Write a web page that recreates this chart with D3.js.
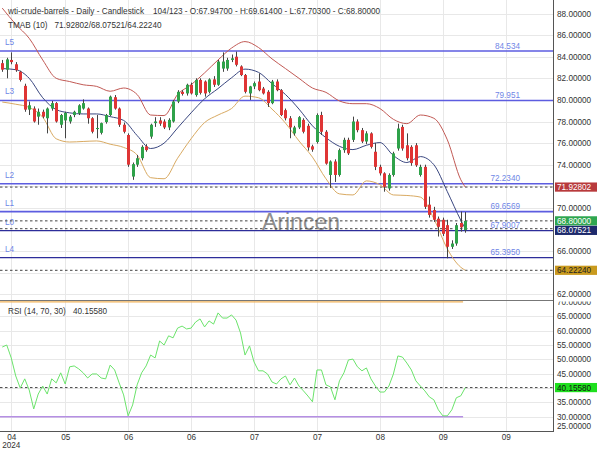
<!DOCTYPE html>
<html><head><meta charset="utf-8">
<script src="https://cdn.jsdelivr.net/npm/d3@7"></script>
<style>body{margin:0;background:#fff;}svg{display:block;}</style>
</head><body><svg id="c" width="600" height="450"></svg>
<script>
// ---------- data ----------
const opens = [83.4,82.8,83.7,83.3,82.6,81.3,79.1,79.2,78.45,78.9, 78.3,79.2,79.7,77.7,78.1,78.0,78.6,78.75,79.2,79.2, 78.3,77.3,76.95,77.95,78.6,80.25,79.2,77.7,76.75,72.9, 74.0,74.6,75.7,76.6,77.85,78.1,78.0,77.45,78.0,79.85, 80.75,80.6,81.4,80.45,81.85,81.7,80.75,81.9,81.4,82.9, 82.9,83.7,84.0,83.1,82.3,80.6,81.25,81.7,81.05,80.75, 79.7,81.7,80.9,79.05,78.3,76.9,77.45,78.15,77.6,75.7, 76.1,78.6,77.05,73.05,74.3,73.05,75.35,76.3,76.3,78.0, 77.2,76.15,76.9,75.2,73.8,73.2,71.8,73.05,75.5,77.5, 75.8,75.65,75.8,73.05,73.8,70.3,69.8,69.0,68.9,68.4, 66.4,66.7,68.6,67.947];
const highs = [83.7,83.9,84.4,83.5,82.7,81.5,79.85,79.4,79.2,79.1, 79.3,79.9,79.8,78.7,78.9,78.6,79.0,79.6,80.05,79.3, 78.4,78.6,77.9,78.7,80.4,80.45,79.3,77.9,76.9,74.2, 74.9,75.8,75.9,77.8,78.4,78.4,78.2,78.3,80.0,80.9, 80.9,81.5,81.6,82.0,82.0,81.8,82.0,82.2,83.7,84.4, 83.9,84.2,84.47,83.2,82.4,81.3,81.7,82.45,81.2,80.9, 81.85,81.9,81.0,79.2,78.5,77.6,78.5,78.3,77.8,75.85, 78.75,78.9,77.2,74.4,74.5,75.5,76.5,76.5,78.45,78.2, 77.4,77.1,77.0,76.0,74.0,73.3,73.2,75.2,77.8,77.7, 76.9,75.8,76.0,74.0,74.0,71.05,70.1,69.2,69.1,68.9, 67.0,68.6,69.66,69.614];
const lows = [82.6,82.0,83.3,82.6,81.7,78.9,78.6,77.9,77.7,78.3, 76.9,79.0,77.9,77.4,76.45,77.8,78.4,78.6,79.1,77.8, 76.9,76.45,76.8,77.8,78.5,79.1,77.5,76.9,73.8,72.6, 73.8,74.4,75.2,76.4,77.5,77.6,77.3,77.2,77.9,79.7, 80.4,80.4,80.5,80.3,80.5,80.3,80.6,81.2,81.3,82.6, 82.7,83.5,83.1,82.2,80.6,80.0,81.0,80.8,80.5,79.35, 79.6,80.8,78.5,78.1,76.45,76.7,77.3,76.9,75.3,75.2, 75.95,76.75,74.0,71.85,72.4,72.9,75.1,74.9,76.1,77.0, 76.0,75.9,75.5,73.5,73.0,71.5,71.6,72.9,75.3,75.3, 74.4,73.9,73.8,72.9,69.9,69.1,68.7,67.35,67.4,65.33, 66.2,66.5,67.8,67.703];
const closes = [82.8,83.75,83.5,82.75,81.85,79.1,79.5,78.0,78.9,78.45, 79.2,79.7,78.0,78.6,78.8,78.45,78.9,79.5,79.7,78.3, 77.05,77.4,77.85,78.6,80.3,79.2,77.7,77.05,74.0,74.05, 74.6,75.65,75.35,77.7,78.0,77.8,77.45,78.15,79.85,80.75, 80.55,81.4,80.6,81.85,80.65,80.6,81.9,81.4,83.55,83.55, 83.7,83.85,83.25,82.3,80.75,81.25,81.55,80.9,80.6,79.7, 81.7,80.9,78.6,78.3,77.45,77.45,78.4,77.05,75.6,75.4, 78.6,77.05,74.1,74.3,73.05,75.35,76.3,75.05,78.0,77.2, 76.15,76.9,75.65,73.8,73.2,71.95,73.05,75.05,77.35,75.5, 74.6,74.15,73.95,73.8,70.1,69.35,68.9,68.25,67.6,66.4, 66.7,68.4,68.2,68.8];

// TMAB(10) bands at these candle indices
const bandIndex  = [0,3,6,9,12,15,18,21,24,27,30,33,36,39,42,45,48,51,54,57,60,63,66,69,72,75,78,81,84,87,90,93,96,99,102,103];
const bandUpper  = [88.5,87.0,85.7,83.7,82.0,81.7,81.4,81.25,80.8,81.1,80.5,78.6,78.55,80.5,81.4,82.5,83.7,84.8,85.4,84.85,83.8,82.9,82.0,81.1,80.7,79.9,79.65,79.65,79.2,78.2,77.8,78.6,78.3,76.3,72.6,71.92802];
const bandMiddle = [82.9,82.8,82.0,80.2,79.1,78.8,78.7,78.7,78.45,78.1,76.7,75.5,76.0,77.4,78.8,80.1,81.05,82.05,82.85,82.55,81.5,80.5,79.15,77.6,76.5,75.7,75.4,75.8,76.05,74.85,74.2,74.75,74.0,71.5,68.85,68.07521];
const bandLower  = [79.8,79.6,79.3,78.4,76.4,76.1,76.15,76.2,75.9,75.6,74.9,72.8,72.7,74.6,76.4,77.9,78.6,79.2,80.35,80.2,79.15,77.85,76.2,74.7,72.7,71.3,71.2,72.5,72.15,71.2,71.15,71.0,69.0,66.2,64.5,64.22240];
const tmabLast = [71.92802, 68.07521, 64.22240];

// RSI(14) per candle
const rsiValues = [54.3,55.0,50.5,44.2,40.0,43.2,39.3,32.7,37.9,40.7, 37.9,43.2,41.8,45.3,41.4,47.4,47.7,46.7,45.3,43.5, 44.9,44.9,43.5,43.2,48.0,46.3,41.8,37.6,30.3,34.1, 41.1,45.3,47.7,51.5,50.5,56.4,55.0,58.2,57.5,60.9, 61.6,60.6,60.9,63.0,64.1,61.3,63.4,62.3,66.2,64.4, 64.4,65.5,63.7,59.2,51.5,54.7,49.1,46.0,46.0,44.9, 42.1,41.4,43.2,44.2,41.1,43.5,40.7,39.0,37.2,35.2, 46.3,46.3,41.1,40.4,35.9,42.5,45.3,49.8,50.1,47.4, 46.0,47.0,43.2,40.7,38.6,38.6,40.7,44.9,51.2,50.8, 48.7,46.3,42.5,40.7,39.0,36.9,35.9,32.4,30.3,30.3, 32.4,36.6,37.3,40.1558];
const rsiLast = 40.15580;

// levels
const levelNames  = ["L5","L3","L2","L1","L0","L4"];
const levelValues = [84.534,79.951,72.2340,69.6569,67.9007,65.3950];
const levelLabels = ["84.534","79.951","72.2340","69.6569","67.9007","65.3950"];
const levelDark   = [false,false,false,false,true,true];

// axes
const priceTicks = [62,64,66,68,70,72,74,76,78,80,82,84,86,88];
const rsiTicks = [25,30,35,40,45,50,55,60,65,70];
const dateTickIndex  = [2,14,28,42,56,70,84,98,112];
const dateTickLabels = ["04","05","06","06","07","07","08","09","09"];
const yearLabel = "2024";
const totalSlots = 123;
const titleText = "wti-crude-barrels - Daily - Candlestick";

// ---------- drawing ----------
const FONT = "'Liberation Sans', Arial, sans-serif";
const FS = 8.2;
const plotRight = 553, mainBottom = 300.5, rsiTop = 301, rsiBottom = 431.5;
const svg = d3.select("#c");
const n = closes.length;

const x = d3.scaleLinear().domain([-0.5, totalSlots - 0.5]).range([0, plotRight]);
const yP = d3.scaleLinear().domain([62, 88]).range([294.3, 13.5]);
const yR = d3.scaleLinear().domain([30, 70]).range([416.7, 302]);

const defs = svg.append("defs");
defs.append("clipPath").attr("id","clipMain").append("rect").attr("x",0).attr("y",0).attr("width",plotRight).attr("height",mainBottom);
defs.append("clipPath").attr("id","clipRsi").append("rect").attr("x",0).attr("y",rsiTop).attr("width",plotRight).attr("height",rsiBottom-rsiTop);
defs.append("clipPath").attr("id","clipRsiAx").append("rect").attr("x",plotRight).attr("y",rsiTop+0.5).attr("width",60).attr("height",150);

// badges (positions needed to hide covered axis labels)
const badges = [
  {v:tmabLast[0], y:yP(tmabLast[0]), bg:"#b83a3c", fg:"#fff"},
  {v:closes[n-1], y:yP(closes[n-1]), bg:"#2fa650", fg:"#fff"},
  {v:tmabLast[1], y:yP(tmabLast[1]), bg:"#1e2a6c", fg:"#fff"},
  {v:tmabLast[2], y:yP(tmabLast[2]), bg:"#c99a1e", fg:"#222"},
  {v:rsiLast, y:yR(rsiLast), bg:"#1ee01e", fg:"#111"}
];
for (let k=1;k<4;k++){ if (badges[k].y - badges[k-1].y < 9.5) badges[k].y = badges[k-1].y + 9.5; }
const covered = yy => badges.some(b => Math.abs(b.y - yy) < 9);

// grid
const grid = svg.append("g").attr("stroke","#e8e8e8").attr("stroke-width",1);
grid.selectAll(".hp").data(priceTicks).join("line")
  .attr("x1",0).attr("x2",plotRight).attr("y1",d=>Math.round(yP(d))+0.5).attr("y2",d=>Math.round(yP(d))+0.5);
grid.selectAll(".hr").data(rsiTicks.filter(d=>d<70)).join("line")
  .attr("x1",0).attr("x2",plotRight).attr("y1",d=>Math.round(yR(d))+0.5).attr("y2",d=>Math.round(yR(d))+0.5);
grid.selectAll(".v").data(dateTickIndex).join("line")
  .attr("x1",d=>Math.round(x(d))+0.5).attr("x2",d=>Math.round(x(d))+0.5).attr("y1",0).attr("y2",rsiBottom);

// watermark
svg.append("text").attr("x",262).attr("y",230).attr("font-family",FONT).attr("font-size",23)
  .attr("fill","#8f8f8f").text("Arincen");

const main = svg.append("g").attr("clip-path","url(#clipMain)");

// level lines
levelValues.forEach((v,k)=>{
  main.append("line").attr("x1",0).attr("x2",plotRight).attr("y1",yP(v)).attr("y2",yP(v))
    .attr("stroke", levelDark[k] ? "#2d2d9a" : "#5d5de0").attr("stroke-width", levelDark[k] ? 1.2 : 1.6);
  main.append("text").attr("x",5).attr("y",yP(v)-6).attr("font-family",FONT).attr("font-size",FS)
    .attr("fill","#6f86e6").text(levelNames[k]);
  main.append("text").attr("x",520).attr("y",yP(v)-2.3).attr("text-anchor","end").attr("font-family",FONT).attr("font-size",FS)
    .attr("fill","#6f86e6").text(levelLabels[k]);
});

// dotted last-value lines
const dotted = [tmabLast[0], closes[n-1], tmabLast[1], tmabLast[2]];
main.selectAll(".dl").data(dotted).join("line")
  .attr("x1",0).attr("x2",plotRight).attr("y1",d=>yP(d)).attr("y2",d=>yP(d))
  .attr("stroke","#444").attr("stroke-width",1).attr("stroke-dasharray","2.5,2.5");

// bands
const bandLine = arr => d3.line().x((d,k)=>x(bandIndex[k])).y(d=>yP(d)).curve(d3.curveMonotoneX)(arr);
main.append("path").attr("d",bandLine(bandUpper)).attr("fill","none").attr("stroke","#c25a55").attr("stroke-width",1);
main.append("path").attr("d",bandLine(bandLower)).attr("fill","none").attr("stroke","#d9aa62").attr("stroke-width",1);
main.append("path").attr("d",bandLine(bandMiddle)).attr("fill","none").attr("stroke","#3a4780").attr("stroke-width",1);

// candles
const idx = d3.range(n);
const cg = main.append("g");
cg.selectAll(".wk").data(idx).join("line")
  .attr("x1",i=>Math.round(x(i))+0.5).attr("x2",i=>Math.round(x(i))+0.5)
  .attr("y1",i=>yP(highs[i])).attr("y2",i=>yP(lows[i]))
  .attr("stroke","#444").attr("stroke-width",1);
cg.selectAll(".bd").data(idx).join("rect")
  .attr("x",i=>Math.round(x(i))-1).attr("width",3)
  .attr("y",i=>yP(Math.max(opens[i],closes[i])))
  .attr("height",i=>Math.max(1, Math.abs(yP(opens[i])-yP(closes[i]))))
  .attr("fill",i=>closes[i]>=opens[i] ? "#2fa24a" : "#df3535");

// RSI panel
const rp = svg.append("g").attr("clip-path","url(#clipRsi)");
rp.append("line").attr("x1",0).attr("x2",x(n-1.5)).attr("y1",yR(30)).attr("y2",yR(30)).attr("stroke","#b58fe3").attr("stroke-width",1.5);
rp.append("line").attr("x1",0).attr("x2",plotRight).attr("y1",yR(rsiLast)).attr("y2",yR(rsiLast))
  .attr("stroke","#444").attr("stroke-width",1).attr("stroke-dasharray","2.5,2.5");
rp.append("path").attr("d", d3.line().x((d,i)=>x(i)).y(d=>yR(d))(rsiValues))
  .attr("fill","none").attr("stroke","#6be36b").attr("stroke-width",1);

// separator and upper RSI level
svg.append("line").attr("x1",0).attr("x2",plotRight).attr("y1",300.5).attr("y2",300.5).attr("stroke","#777").attr("stroke-width",1);
svg.append("line").attr("x1",0).attr("x2",x(n-1.5)).attr("y1",301.8).attr("y2",301.8).attr("stroke","#efb25a").attr("stroke-width",1.3);

// axes
const styleAxis = g => { g.select(".domain").remove(); g.attr("font-family",FONT).attr("font-size",FS); g.selectAll("text").attr("fill","#333"); };
const pAx = svg.append("g").attr("transform",`translate(${plotRight},0)`)
  .call(d3.axisRight(yP).tickValues(priceTicks).tickFormat(d=>d.toFixed(5)).tickSize(0).tickPadding(4)).call(styleAxis);
pAx.selectAll(".tick").filter(d=>covered(yP(d))).remove();
const rAx = svg.append("g").attr("clip-path","url(#clipRsiAx)").append("g").attr("transform",`translate(${plotRight},0)`)
  .call(d3.axisRight(yR).tickValues(rsiTicks).tickFormat(d=>d.toFixed(5)).tickSize(0).tickPadding(4)).call(styleAxis);
rAx.selectAll(".tick").filter(d=>Math.abs(yR(d)-yR(rsiLast))<9).remove();
rAx.selectAll(".tick").filter(d=>d===25).attr("transform","translate(0,426.5)");
svg.append("g").attr("transform",`translate(0,${rsiBottom})`)
  .call(d3.axisBottom(x).tickValues(dateTickIndex).tickFormat((d,i)=>dateTickLabels[i]).tickSize(0).tickPadding(3)).call(styleAxis);
svg.append("text").attr("x",x(dateTickIndex[0])).attr("y",448).attr("text-anchor","middle")
  .attr("font-family",FONT).attr("font-size",FS).attr("fill","#333").text(yearLabel);

// frame lines
svg.append("line").attr("x1",plotRight+0.5).attr("x2",plotRight+0.5).attr("y1",0).attr("y2",rsiBottom+0.5).attr("stroke","#555").attr("stroke-width",1);
svg.append("line").attr("x1",0).attr("x2",plotRight+1).attr("y1",rsiBottom).attr("y2",rsiBottom).attr("stroke","#555").attr("stroke-width",1);

// badges
badges.forEach(b=>{
  svg.append("rect").attr("x",555).attr("y",b.y-4.6).attr("width",42).attr("height",9.2).attr("fill",b.bg);
  svg.append("text").attr("x",557).attr("y",b.y+3).attr("font-family",FONT).attr("font-size",FS).attr("fill",b.fg).text(b.v.toFixed(5));
});

// header texts
const hdr = (xx,yy,t)=>svg.append("text").attr("x",xx).attr("y",yy).attr("font-family",FONT).attr("font-size",FS).attr("fill","#333").text(t);
hdr(8,13.5,titleText);
hdr(153,13.5,`${n}/${totalSlots} - O:${opens[n-1].toFixed(5)} - H:${highs[n-1].toFixed(5)} - L:${lows[n-1].toFixed(5)} - C:${closes[n-1].toFixed(5)}`);
hdr(8,28,"TMAB (10)");
hdr(54.5,28,tmabLast.map(v=>v.toFixed(5)).join("/"));
hdr(8,314,"RSI (14, 70, 30)");
hdr(73,314,rsiLast.toFixed(5));
</script></body></html>
